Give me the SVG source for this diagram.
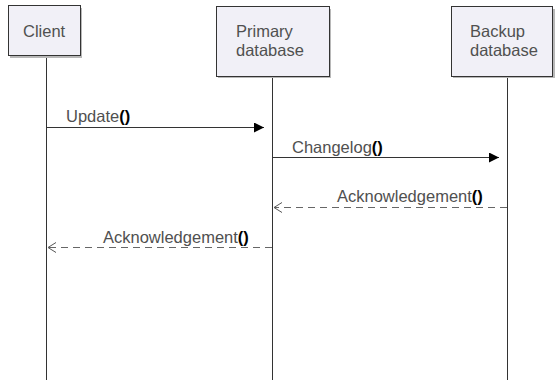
<svg xmlns="http://www.w3.org/2000/svg" width="555" height="380" viewBox="0 0 555 380">
  <style>
    .box { fill: #f1f0f7; stroke: #333333; stroke-width: 1; }
    .shadow { fill: #b8b8b8; }
    .life { stroke: #333333; stroke-width: 1; fill: none; }
    .title { font-family: "Liberation Sans", Arial, sans-serif; font-size: 16.5px; fill: #505050; }
    .msg { font-family: "Liberation Sans", Arial, sans-serif; font-size: 16.5px; fill: #505050; }
    .paren { fill: #000000; font-weight: bold; }
    .call { stroke: #333333; stroke-width: 1; fill: none; }
    .reply { stroke: #666666; stroke-width: 1; fill: none; stroke-dasharray: 7 5; }
  </style>
  <defs>
    <marker id="solid" markerWidth="10" markerHeight="10" refX="10" refY="5" orient="auto" markerUnits="userSpaceOnUse">
      <path d="M0,0 L10,5 L0,10 Z" fill="#000000"/>
    </marker>
    <marker id="open" markerWidth="10" markerHeight="12" refX="8" refY="6" orient="auto" markerUnits="userSpaceOnUse">
      <path d="M0,1 L8,6 L0,11" fill="none" stroke="#555555" stroke-width="1"/>
    </marker>
  </defs>
  <rect width="555" height="380" fill="#ffffff"/>

  <!-- lifelines -->
  <g id="lifelines">
    <line class="life" x1="46.5" y1="56" x2="46.5" y2="380"/>
    <line class="life" x1="272.5" y1="76" x2="272.5" y2="380"/>
    <line class="life" x1="507.5" y1="76" x2="507.5" y2="380"/>
  </g>

  <g id="client">
    <rect class="shadow" x="10" y="8" width="72" height="50"/>
    <rect class="box" x="8.5" y="5.5" width="72" height="50"/>
    <text class="title" x="23" y="37">Client</text>
  </g>

  <g id="primary">
    <rect class="shadow" x="218" y="9" width="113" height="69"/>
    <rect class="box" x="216.5" y="6.5" width="113" height="70"/>
    <text class="title" x="236" y="37">Primary</text>
    <text class="title" x="236" y="56">database</text>
  </g>

  <g id="backup">
    <rect class="shadow" x="453" y="9" width="102" height="69"/>
    <rect class="box" x="451.5" y="6.5" width="101" height="70"/>
    <text class="title" x="470" y="37">Backup</text>
    <text class="title" x="470" y="56">database</text>
  </g>

  <g id="messages">
    <line class="call" x1="46.5" y1="127.5" x2="264" y2="127.5" marker-end="url(#solid)"/>
    <text class="msg" x="66" y="122">Update<tspan class="paren">()</tspan></text>

    <line class="call" x1="272.5" y1="157.5" x2="499" y2="157.5" marker-end="url(#solid)"/>
    <text class="msg" x="292" y="153">Changelog<tspan class="paren">()</tspan></text>

    <line class="reply" x1="507" y1="207.5" x2="274" y2="207.5" marker-end="url(#open)"/>
    <text class="msg" x="337" y="202">Acknowledgement<tspan class="paren">()</tspan></text>

    <line class="reply" x1="272" y1="247.5" x2="48" y2="247.5" marker-end="url(#open)"/>
    <text class="msg" x="103" y="243">Acknowledgement<tspan class="paren">()</tspan></text>
  </g>
</svg>
